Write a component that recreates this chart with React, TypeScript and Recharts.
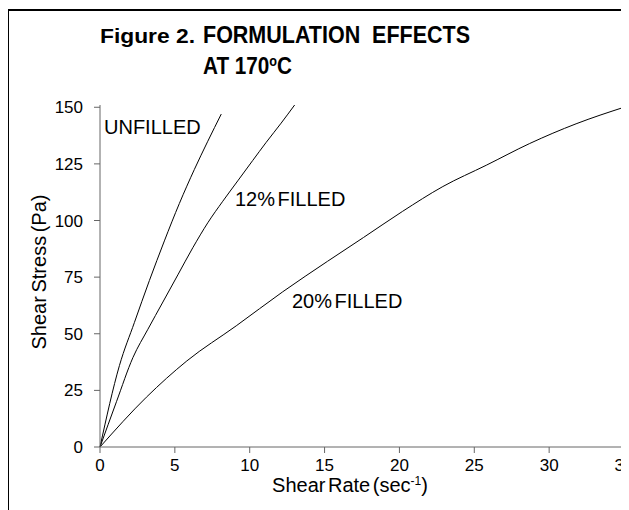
import React from 'react';
import { LineChart, Line, XAxis, YAxis } from 'recharts';

// shear rate (sec-1) / shear stress (Pa)
const unfilledRate = [0, 1.3, 2.3, 3.3, 4.3, 5.3, 6.3, 7.2, 8.1];
const unfilledStress = [0, 36, 55, 73.5, 91, 107.5, 122.5, 135, 147];

const filled12Rate = [0, 1.1, 2.2, 3.2, 4.2, 5.2, 6.2, 7.2, 8.2, 9.2, 10.2, 11.1, 12.1, 13.0];
const filled12Stress = [0, 20, 39.5, 52, 64, 76, 88, 99, 108.5, 117.5, 126.5, 134.5, 143, 151];

const filled20Rate = [0, 3.1, 5.8, 9.1, 12.2, 15.2, 17.6, 20.2, 22.9, 25.8, 28.7, 31.8, 35];
const filled20Stress = [0, 22, 38, 53.5, 68.5, 82, 92.5, 104, 115, 124.4, 134, 142.7, 150];

const xTicks = [0, 5, 10, 15, 20, 25, 30, 35];
const yTicks = [0, 25, 50, 75, 100, 125, 150];

const FONT = '"Liberation Sans", Arial, sans-serif';

const toPoints = (xs: number[], ys: number[]) => xs.map((x, i) => ({ x, y: ys[i] }));

const XLabel = (props: any) => {
  const { viewBox } = props;
  const cx = viewBox.x + viewBox.width / 2 - 12;
  return (
    <text x={cx} y={viewBox.y + 45} textAnchor="middle" fontSize={20} fill="#000" fontFamily={FONT} wordSpacing={-3}>
      Shear Rate (sec
      <tspan dy={-7} fontSize={12}>-1</tspan>
      <tspan dy={7}>)</tspan>
    </text>
  );
};

const YLabel = (props: any) => {
  const { viewBox } = props;
  const cy = viewBox.y + viewBox.height / 2 - 4;
  const x = 38;
  return (
    <text x={x} y={cy} textAnchor="middle" fontSize={20} fill="#000" fontFamily={FONT} transform={`rotate(-90, ${x}, ${cy})`} wordSpacing={-2}>
      Shear Stress (Pa)
    </text>
  );
};

const App: React.FC = () => {
  const unfilled = toPoints(unfilledRate, unfilledStress);
  const filled12 = toPoints(filled12Rate, filled12Stress);
  const filled20 = toPoints(filled20Rate, filled20Stress);

  return (
    <div style={{ position: 'relative', width: 621, height: 502, fontFamily: FONT }}>
      <div
        style={{
          position: 'absolute',
          left: -1,
          top: 1,
          width: 622,
          height: 501,
          borderLeft: '2px solid #000',
          borderTop: '2px solid #000',
          boxSizing: 'border-box',
        }}
      />
      <div style={{ position: 'absolute', left: 0, top: 0 }}>
        <LineChart width={621} height={502} margin={{ top: 97, right: 5, left: 32, bottom: 33 }}>
          <XAxis
            type="number"
            dataKey="x"
            domain={[0, 35]}
            ticks={xTicks}
            interval={0}
            height={30}
            tickSize={6}
            tickMargin={6}
            axisLine={{ stroke: '#666' }}
            tickLine={{ stroke: '#666' }}
            tick={{ fill: '#000', fontSize: 17, fontFamily: FONT }}
            label={{ content: XLabel }}
          />
          <YAxis
            type="number"
            dataKey="y"
            domain={[0, 150]}
            ticks={yTicks}
            interval={0}
            width={60}
            tickSize={6}
            tickMargin={11}
            axisLine={{ stroke: '#666' }}
            tickLine={{ stroke: '#666' }}
            tick={{ fill: '#000', fontSize: 17, fontFamily: FONT }}
            label={{ content: YLabel }}
          />
          <Line data={unfilled} dataKey="y" type="monotone" stroke="#000" strokeWidth={1} dot={false} isAnimationActive={false} />
          <Line data={filled12} dataKey="y" type="monotone" stroke="#000" strokeWidth={1} dot={false} isAnimationActive={false} />
          <Line data={filled20} dataKey="y" type="monotone" stroke="#000" strokeWidth={1} dot={false} isAnimationActive={false} />
        </LineChart>
      </div>
      <svg width={621} height={502} style={{ position: 'absolute', left: 0, top: 0, pointerEvents: 'none' }} fontFamily={FONT}>
        <text x={92} y={35} fontSize={20} fontWeight="bold" fill="#000" textLength={95} lengthAdjust="spacingAndGlyphs">
          Figure 2.
        </text>
        <text x={195} y={35} fontSize={23} fontWeight="bold" fill="#000" textLength={267} lengthAdjust="spacingAndGlyphs" xmlSpace="preserve">
          FORMULATION  EFFECTS
        </text>
        <g transform="translate(195, 66) scale(0.9, 1)">
          <text x={0} y={0} fontSize={23} fontWeight="bold" fill="#000">
            AT 170
            <tspan dy={-8} fontSize={14}>o</tspan>
            <tspan dy={8}>C</tspan>
          </text>
        </g>
        <text x={96} y={126} fontSize={20} fill="#000">UNFILLED</text>
        <text x={227} y={198} fontSize={20} fill="#000" wordSpacing={-3}>12% FILLED</text>
        <text x={284} y={300} fontSize={20} fill="#000" wordSpacing={-3}>20% FILLED</text>
      </svg>
    </div>
  );
};

export default App;
